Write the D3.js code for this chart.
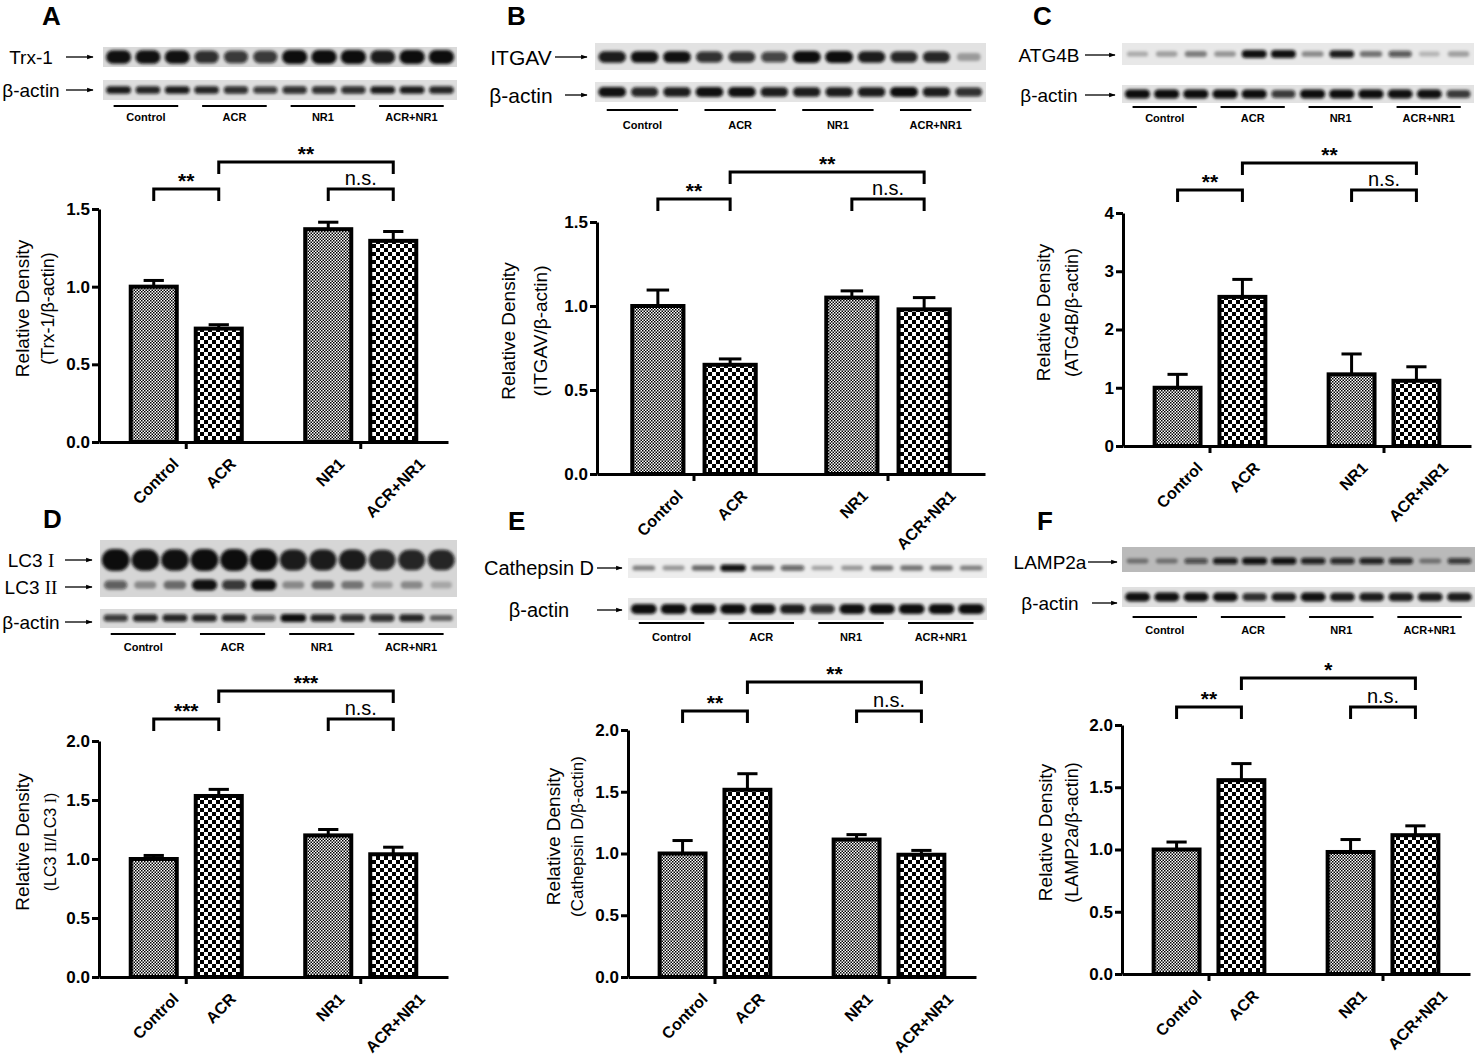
<!DOCTYPE html>
<html>
<head>
<meta charset="utf-8">
<script src="https://cdn.jsdelivr.net/npm/d3@7"></script>
<style>
  body { margin: 0; background: #fff; }
  svg { display: block; font-family: "Liberation Sans", Arial, sans-serif; }
</style>
</head>
<body>
<svg id="fig" width="1476" height="1056"></svg>
<script>
// ---- data ----
var groups = ["Control", "ACR", "NR1", "ACR+NR1"];
var pairs = ["left", "right"];

// bar means and upper error (SEM) per panel
var trx1Mean = [1.00, 0.73, 1.37, 1.295];
var trx1Err = [0.04, 0.025, 0.045, 0.06];
var itgavMean = [1.00, 0.65, 1.05, 0.98];
var itgavErr = [0.095, 0.035, 0.04, 0.07];
var atg4bMean = [1.00, 2.56, 1.23, 1.12];
var atg4bErr = [0.23, 0.30, 0.35, 0.24];
var lc3Mean = [1.00, 1.534, 1.20, 1.04];
var lc3Err = [0.03, 0.056, 0.05, 0.06];
var ctsdMean = [1.00, 1.516, 1.113, 0.99];
var ctsdErr = [0.105, 0.13, 0.04, 0.035];
var lampMean = [1.00, 1.557, 0.98, 1.115];
var lampErr = [0.06, 0.133, 0.10, 0.075];

// significance: Control vs ACR, ACR vs ACR+NR1, NR1 vs ACR+NR1
var sigA = ["**", "**", "n.s."];
var sigB = ["**", "**", "n.s."];
var sigC = ["**", "**", "n.s."];
var sigD = ["***", "***", "n.s."];
var sigE = ["**", "**", "n.s."];
var sigF = ["**", "*", "n.s."];

// blot band intensity (0..1), 12 lanes = 3 per group
var trx1Bands = [0.95, 0.95, 0.95, 0.8, 0.75, 0.75, 1, 1, 1, 0.9, 1, 1];
var actinA = [0.9, 0.85, 0.9, 0.85, 0.8, 0.75, 0.8, 0.8, 0.8, 0.9, 0.9, 0.85];
var itgavBands = [0.9, 0.95, 0.95, 0.8, 0.8, 0.7, 1, 1, 0.9, 0.85, 0.85, 0.25];
var actinB = [0.95, 0.85, 0.9, 0.95, 0.95, 0.9, 0.9, 0.9, 0.9, 1, 0.9, 0.8];
var atg4bBands = [0.2, 0.25, 0.4, 0.3, 0.95, 0.95, 0.35, 0.9, 0.45, 0.6, 0.15, 0.25];
var actinC = [1, 1, 1, 1, 1, 0.75, 1, 1, 1, 0.95, 0.95, 0.75];
var lc3iBands = [1, 0.95, 0.95, 1, 1, 1, 0.9, 0.9, 0.9, 0.85, 0.85, 0.85];
var lc3iiBands = [0.55, 0.3, 0.45, 0.95, 0.75, 1, 0.3, 0.5, 0.4, 0.2, 0.3, 0.15];
var actinD = [0.75, 0.85, 0.85, 0.85, 0.85, 0.6, 1, 0.85, 0.8, 0.8, 0.85, 0.5];
var ctsdBands = [0.4, 0.3, 0.5, 0.95, 0.5, 0.55, 0.25, 0.3, 0.45, 0.45, 0.45, 0.4];
var actinE = [1, 1, 1, 1, 0.95, 0.9, 0.8, 0.95, 1, 1, 1, 1];
var lampBands = [0.35, 0.35, 0.6, 0.9, 0.95, 0.95, 0.85, 0.8, 0.85, 0.8, 0.35, 0.7];
var actinF = [0.95, 0.95, 0.95, 0.95, 0.8, 0.9, 0.95, 0.9, 0.9, 0.9, 0.9, 0.9];

// ---- layout ----
var panels = [
  { letter: "A", lx: 42, ly: 25,
    blot: { x0: 103, x1: 457, labelX: 31, fs: 19, ae: 93, lineY: 106, groupY: 117,
      rows: [
        { y: 47, h: 20, bg: "#dadada", tracks: [{ label: "Trx-1", ly: 57, cy: 57, size: 7, ax: 66, values: trx1Bands }] },
        { y: 80, h: 20, bg: "#dedede", tracks: [{ label: "β-actin", ly: 90, cy: 90, size: 4, ax: 66, values: actinA }] }
      ] },
    chart: { x0: 99, x1: 448, yTop: 209, yBot: 442, max: 1.5, ticks: [0, 0.5, 1, 1.5], fmt: ".1f", t1x: 22, t2x: 48, br1: 20, br2: 47 },
    mean: trx1Mean, err: trx1Err, sig: sigA, title: ["Relative Density", "(Trx-1/β-actin)"], t2fs: 18 },
  { letter: "B", lx: 507, ly: 25,
    blot: { x0: 595, x1: 986, labelX: 521, fs: 21, ae: 587, lineY: 110, groupY: 125,
      rows: [
        { y: 43, h: 27, bg: "#e2e2e2", tracks: [{ label: "ITGAV", ly: 57, cy: 57, size: 6, ax: 555, values: itgavBands }] },
        { y: 82, h: 20, bg: "#e4e4e4", tracks: [{ label: "β-actin", ly: 95, cy: 92, size: 5, ax: 565, values: actinB }] }
      ] },
    chart: { x0: 597, x1: 985, yTop: 222, yBot: 474, max: 1.5, ticks: [0, 0.5, 1, 1.5], fmt: ".1f", t1x: 508, t2x: 540, br1: 23, br2: 50 },
    mean: itgavMean, err: itgavErr, sig: sigB, title: ["Relative Density", "(ITGAV/β-actin)"], t2fs: 19 },
  { letter: "C", lx: 1033, ly: 25,
    blot: { x0: 1122, x1: 1474, labelX: 1049, fs: 19, ae: 1115, lineY: 107, groupY: 118,
      rows: [
        { y: 43, h: 22, bg: "#e8e8e8", tracks: [{ label: "ATG4B", ly: 55, cy: 54, size: 4, ax: 1085, values: atg4bBands }] },
        { y: 85, h: 18, bg: "#e2e2e2", tracks: [{ label: "β-actin", ly: 95, cy: 94, size: 4.5, ax: 1085, values: actinC }] }
      ] },
    chart: { x0: 1123, x1: 1471, yTop: 213, yBot: 446, max: 4, ticks: [0, 1, 2, 3, 4], fmt: "d", t1x: 1043, t2x: 1072, br1: 23, br2: 50 },
    mean: atg4bMean, err: atg4bErr, sig: sigC, title: ["Relative Density", "(ATG4B/β-actin)"], t2fs: 18 },
  { letter: "D", lx: 43, ly: 528,
    blot: { x0: 100, x1: 457, labelX: 31, fs: 19, ae: 92, lineY: 634, groupY: 647,
      rows: [
        { y: 540, h: 57, bg: "#d6d6d6", tracks: [
          { label: "LC3 {I}", ly: 560, cy: 560, size: 11, wide: 1.0, ax: 65, values: lc3iBands },
          { label: "LC3 {II}", ly: 587, cy: 585, size: 5.5, ax: 65, values: lc3iiBands }] },
        { y: 609, h: 19, bg: "#dadada", tracks: [{ label: "β-actin", ly: 622, cy: 618, size: 4, ax: 65, values: actinD }] }
      ] },
    chart: { x0: 99, x1: 448, yTop: 741, yBot: 977, max: 2, ticks: [0, 0.5, 1, 1.5, 2], fmt: ".1f", t1x: 22, t2x: 50, br1: 22, br2: 50 },
    mean: lc3Mean, err: lc3Err, sig: sigD, title: ["Relative Density", "(LC3 {II}/LC3 {I})"], t2fs: 16 },
  { letter: "E", lx: 508, ly: 530,
    blot: { x0: 628, x1: 987, labelX: 539, fs: 20, ae: 622, lineY: 623, groupY: 637,
      rows: [
        { y: 558, h: 20, bg: "#ededed", tracks: [{ label: "Cathepsin D", ly: 568, cy: 568, size: 3.5, ax: 597, values: ctsdBands }] },
        { y: 598, h: 22, bg: "#e6e6e6", tracks: [{ label: "β-actin", ly: 610, cy: 609, size: 5, ax: 597, values: actinE }] }
      ] },
    chart: { x0: 628, x1: 976, yTop: 730, yBot: 977, max: 2, ticks: [0, 0.5, 1, 1.5, 2], fmt: ".1f", t1x: 553, t2x: 577, br1: 19, br2: 48 },
    mean: ctsdMean, err: ctsdErr, sig: sigE, title: ["Relative Density", "(Cathepsin D/β-actin)"], t2fs: 17 },
  { letter: "F", lx: 1037, ly: 530,
    blot: { x0: 1122, x1: 1475, labelX: 1050, fs: 19, ae: 1117, lineY: 617, groupY: 630,
      rows: [
        { y: 547, h: 25, bg: "#bababa", tracks: [{ label: "LAMP2a", ly: 562, cy: 561, size: 3.5, ax: 1088, values: lampBands }] },
        { y: 587, h: 20, bg: "#e0e0e0", tracks: [{ label: "β-actin", ly: 603, cy: 597, size: 4.5, ax: 1092, values: actinF }] }
      ] },
    chart: { x0: 1122, x1: 1470, yTop: 725, yBot: 974, max: 2, ticks: [0, 0.5, 1, 1.5, 2], fmt: ".1f", t1x: 1045, t2x: 1072, br1: 18, br2: 47 },
    mean: lampMean, err: lampErr, sig: sigF, title: ["Relative Density", "(LAMP2a/β-actin)"], t2fs: 18 }
];

var svg = d3.select("#fig");
var defs = svg.append("defs");

// checker fills for the bars
function checker(id, c) {
  var p = defs.append("pattern").attr("id", id).attr("patternUnits", "userSpaceOnUse")
    .attr("width", 2 * c).attr("height", 2 * c);
  p.append("rect").attr("width", 2 * c).attr("height", 2 * c).attr("fill", "#fff");
  p.append("rect").attr("width", c).attr("height", c).attr("fill", "#000");
  p.append("rect").attr("x", c).attr("y", c).attr("width", c).attr("height", c).attr("fill", "#000");
}
checker("fine", 1.5);
checker("coarse", 4);

defs.append("filter").attr("id", "blur").attr("x", "-30%").attr("y", "-100%")
  .attr("width", "160%").attr("height", "300%")
  .append("feGaussianBlur").attr("stdDeviation", 1.4);

defs.append("marker").attr("id", "arr").attr("viewBox", "0 0 10 10")
  .attr("refX", 9).attr("refY", 5).attr("markerWidth", 5).attr("markerHeight", 5).attr("orient", "auto")
  .append("path").attr("d", "M0,1.5L10,5L0,8.5Z").attr("fill", "#000");

// text with {..} parts set in a serif face (roman numerals of LC3)
function rich(sel, str) {
  str.split(/(\{[^}]*\})/).filter(function(s) { return s; }).forEach(function(s) {
    if (s[0] === "{") sel.append("tspan").attr("font-family", "'Liberation Serif', 'DejaVu Serif', serif").text(s.slice(1, -1));
    else sel.append("tspan").text(s);
  });
}

function drawBlot(p) {
  var b = p.blot;
  var g = svg.append("g");
  var lanes = d3.scaleBand().domain(d3.range(12)).range([b.x0, b.x1]).padding(0.06);
  var grp = d3.scaleBand().domain(groups).range([b.x0, b.x1]);

  b.rows.forEach(function(r) {
    g.append("rect").attr("x", b.x0).attr("y", r.y).attr("width", b.x1 - b.x0).attr("height", r.h).attr("fill", r.bg);
    var clip = "clip" + p.letter + r.y;
    defs.append("clipPath").attr("id", clip).append("rect")
      .attr("x", b.x0).attr("y", r.y).attr("width", b.x1 - b.x0).attr("height", r.h);
    r.tracks.forEach(function(t) {
      var wide = t.wide || 0.92;
      var w = function(d) { return lanes.bandwidth() * wide * (0.8 + 0.2 * d); };
      var h = function(d) { return 2 * t.size * (0.55 + 0.45 * d); };
      g.append("g").attr("clip-path", "url(#" + clip + ")")
        .append("g").attr("filter", "url(#blur)")
        .selectAll("rect").data(t.values).join("rect")
        .attr("x", function(d, i) { return lanes(i) + (lanes.bandwidth() - w(d)) / 2; })
        .attr("y", function(d) { return t.cy - h(d) / 2; })
        .attr("width", w).attr("height", h)
        .attr("rx", function(d) { return Math.min(w(d), h(d)) / 2; })
        .attr("fill", "#0b0b0b")
        .attr("fill-opacity", function(d) { return Math.min(1, 0.08 + 0.95 * d); });

      var lab = g.append("text").attr("x", b.labelX).attr("y", t.ly)
        .attr("text-anchor", "middle").attr("dominant-baseline", "central")
        .attr("font-size", b.fs).attr("fill", "#000");
      rich(lab, t.label);
      g.append("line").attr("x1", t.ax).attr("x2", b.ae).attr("y1", t.ly).attr("y2", t.ly)
        .attr("stroke", "#000").attr("stroke-width", 1.3).attr("marker-end", "url(#arr)");
    });
  });

  g.selectAll("line.grp").data(groups).join("line").attr("class", "grp")
    .attr("x1", function(d) { return grp(d) + grp.bandwidth() * 0.12; })
    .attr("x2", function(d) { return grp(d) + grp.bandwidth() * 0.85; })
    .attr("y1", b.lineY).attr("y2", b.lineY)
    .attr("stroke", "#000").attr("stroke-width", 2.2);
  g.selectAll("text.grp").data(groups).join("text").attr("class", "grp")
    .attr("x", function(d) { return grp(d) + grp.bandwidth() * 0.485; })
    .attr("y", b.groupY).attr("text-anchor", "middle").attr("dominant-baseline", "central")
    .attr("font-size", 11).attr("font-weight", "bold").text(function(d) { return d; });
}

function drawChart(p) {
  var c = p.chart;
  var g = svg.append("g");
  var y = d3.scaleLinear().domain([0, c.max]).range([c.yBot, c.yTop]);
  var outer = d3.scaleBand().domain(pairs).range([c.x0, c.x1]);
  var inner = d3.scaleBand().domain([0, 1]).range([0, outer.bandwidth()])
    .paddingInner(0.292).paddingOuter(0.488);
  var bw = inner.bandwidth();
  var bx = function(i) { return outer(pairs[Math.floor(i / 2)]) + inner(i % 2); };
  var cx = function(i) { return bx(i) + bw / 2; };
  var rows = groups.map(function(name, i) { return { name: name, i: i, m: p.mean[i], e: p.err[i] }; });

  // error bars (upper only)
  var eb = g.selectAll("g.eb").data(rows).join("g").attr("class", "eb")
    .attr("stroke", "#000").attr("stroke-width", 3);
  eb.append("line").attr("x1", function(d) { return cx(d.i); }).attr("x2", function(d) { return cx(d.i); })
    .attr("y1", function(d) { return y(d.m); }).attr("y2", function(d) { return y(d.m + d.e); });
  eb.append("line").attr("x1", function(d) { return cx(d.i) - bw * 0.22; }).attr("x2", function(d) { return cx(d.i) + bw * 0.22; })
    .attr("y1", function(d) { return y(d.m + d.e); }).attr("y2", function(d) { return y(d.m + d.e); });

  g.selectAll("rect.bar").data(rows).join("rect").attr("class", "bar")
    .attr("x", function(d) { return bx(d.i); }).attr("y", function(d) { return y(d.m); })
    .attr("width", bw).attr("height", function(d) { return c.yBot - y(d.m); })
    .attr("fill", function(d) { return d.i % 2 ? "url(#coarse)" : "url(#fine)"; })
    .attr("stroke", "#000").attr("stroke-width", 4);

  var ya = g.append("g").attr("transform", "translate(" + c.x0 + ",0)")
    .call(d3.axisLeft(y).tickValues(c.ticks).tickFormat(d3.format(c.fmt)).tickSize(7).tickSizeOuter(0).tickPadding(2));
  var xa = g.append("g").attr("transform", "translate(0," + c.yBot + ")")
    .call(d3.axisBottom(outer).tickSize(7).tickSizeOuter(0).tickFormat(""));
  g.selectAll(".domain, .tick line").attr("stroke", "#000").attr("stroke-width", 3);
  ya.selectAll("text").attr("font-size", 17).attr("font-weight", "bold").attr("fill", "#000")
    .attr("font-family", "'Liberation Sans', Arial, sans-serif");

  // rotated category labels: centred under the bar, box top just below the axis
  g.selectAll("text.xl").data(rows).join("text").attr("class", "xl")
    .attr("text-anchor", "middle").attr("dominant-baseline", "central")
    .attr("font-size", 16).attr("font-weight", "bold")
    .text(function(d) { return d.name; })
    .attr("transform", function(d) {
      var len = this.getComputedTextLength();
      return "translate(" + (cx(d.i) + 2) + "," + (c.yBot + 14 + 0.354 * len + 5) + ") rotate(-45)";
    });

  var ym = (c.yTop + c.yBot) / 2 - 17;
  g.append("text").attr("transform", "translate(" + c.t1x + "," + ym + ") rotate(-90)")
    .attr("text-anchor", "middle").attr("dominant-baseline", "central").attr("font-size", 19)
    .text(p.title[0]);
  rich(g.append("text").attr("transform", "translate(" + c.t2x + "," + ym + ") rotate(-90)")
    .attr("text-anchor", "middle").attr("dominant-baseline", "central").attr("font-size", p.t2fs), p.title[1]);

  // comparison brackets
  var br = [[0, 1, c.yTop - c.br1], [1, 3, c.yTop - c.br2], [2, 3, c.yTop - c.br1]];
  br.forEach(function(s, k) {
    var top = s[2], a = cx(s[0]), b = cx(s[1]);
    g.append("path").attr("d", "M" + a + "," + (top + 12) + "V" + top + "H" + b + "V" + (top + 12))
      .attr("fill", "none").attr("stroke", "#000").attr("stroke-width", 3);
    var lab = p.sig[k];
    var t = g.append("text").attr("x", (a + b) / 2).attr("text-anchor", "middle").text(lab);
    if (lab === "n.s.") t.attr("y", top - 4).attr("font-size", 20);
    else t.attr("y", top - 1).attr("font-size", 21).attr("font-weight", "bold");
  });
}

panels.forEach(function(p) {
  svg.append("text").attr("x", p.lx).attr("y", p.ly).attr("font-size", 26).attr("font-weight", "bold").text(p.letter);
  drawBlot(p);
  drawChart(p);
});
</script>
</body>
</html>
